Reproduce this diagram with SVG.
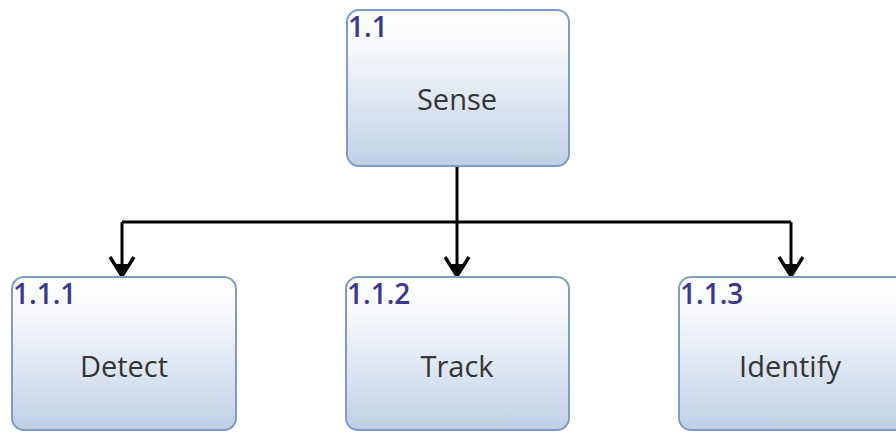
<svg xmlns="http://www.w3.org/2000/svg" width="896" height="433" viewBox="0 0 896 433">
  <defs>
    <linearGradient id="boxFill" x1="0" y1="0" x2="0" y2="1">
      <stop offset="0" stop-color="#ffffff"/>
      <stop offset="0.25" stop-color="#f6f8fb"/>
      <stop offset="1" stop-color="#c0d0e5"/>
    </linearGradient>
    <style>
      .box { fill: url(#boxFill); stroke: #7b9dc7; stroke-width: 2; }
      .num { font-family: "Open Sans", "Noto Sans", sans-serif; font-size: 28px; font-weight: 600; fill: #3b3790; }
      .name { font-family: "Open Sans", "Noto Sans", sans-serif; font-size: 29px; fill: #353535; text-anchor: middle; }
      .wire { fill: none; stroke: #000; stroke-width: 3; }
      .head { fill: none; stroke: #000; stroke-width: 3.4; }
    </style>
  </defs>
  <rect width="896" height="433" fill="#ffffff"/>

  <g id="connectors">
    <path class="wire" d="M457,167 V222"/>
    <path class="wire" d="M122,222 H791"/>
    <path class="wire" d="M122,222 V275"/>
    <path class="wire" d="M457,222 V275"/>
    <path class="wire" d="M791,222 V275"/>
    <!-- chevron arrowheads -->
    <path class="head" d="M110,257 L122,276 L134,257"/>
    <path d="M116,264 L122,277 L128,264 Z" fill="#000"/>
    <path class="head" d="M445,257 L457,276 L469,257"/>
    <path d="M451,264 L457,277 L463,264 Z" fill="#000"/>
    <path class="head" d="M779,257 L791,276 L803,257"/>
    <path d="M785,264 L791,277 L797,264 Z" fill="#000"/>
  </g>

  <g id="sense">
    <rect class="box" x="347" y="10" width="222" height="156" rx="12"/>
    <text class="num" x="348" y="37">1.1</text>
    <text class="name" x="457" y="110">Sense</text>
  </g>

  <g id="detect">
    <rect class="box" x="12" y="277" width="224" height="153" rx="12"/>
    <text class="num" x="13" y="304">1.1.1</text>
    <text class="name" x="124" y="377">Detect</text>
  </g>

  <g id="track">
    <rect class="box" x="346" y="277" width="223" height="153" rx="12"/>
    <text class="num" x="347" y="304">1.1.2</text>
    <text class="name" x="457" y="377">Track</text>
  </g>

  <g id="identify">
    <rect class="box" x="679" y="277" width="230" height="153" rx="12"/>
    <text class="num" x="680" y="304">1.1.3</text>
    <text class="name" x="790" y="377">Identify</text>
  </g>
</svg>
